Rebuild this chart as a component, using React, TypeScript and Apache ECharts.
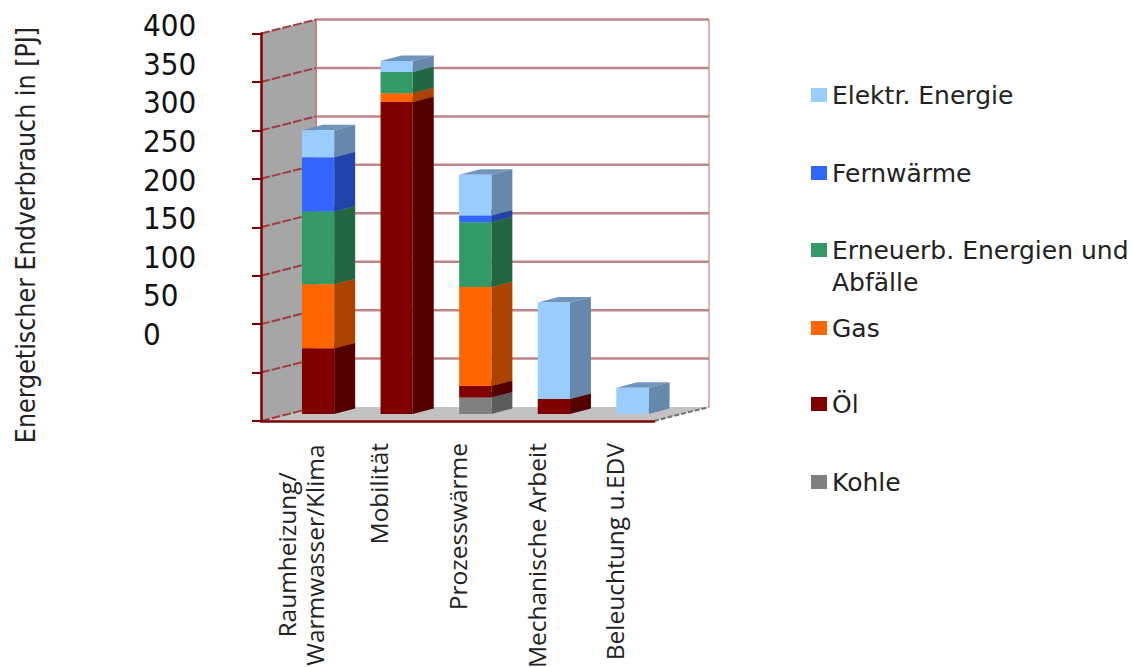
import React, { useEffect, useRef } from "react";
import * as echarts from "echarts";

// Final energy use by purpose and energy carrier, in PJ.
const categories = [
  "Raumheizung/\nWarmwasser/Klima",
  "Mobilität",
  "Prozesswärme",
  "Mechanische Arbeit",
  "Beleuchtung u.EDV",
];
const kohle = [0, 0, 17, 0, 0];
const oel = [68, 322, 12, 15.5, 0];
const gas = [66, 9, 102, 0, 0];
const erneuerbar = [75, 22, 67, 0, 0];
const fernwaerme = [56, 0, 7, 0, 0];
const elektrisch = [28, 11.5, 42, 99.5, 27];
const yTicks = [0, 50, 100, 150, 200, 250, 300, 350, 400];

const LABEL_FONT = "'DejaVu Sans', sans-serif";
const TICK_FONT = "'DejaVu Sans Condensed', 'DejaVu Sans', sans-serif";
const CATEGORY_FONT = "'Open Sans', sans-serif";
const AXIS_RED = "#800000";
const GRID_RED = "#bf8486";

// Projection of the pseudo-3D scene.
const WALL_DX = 55;
const WALL_DY = -14;
const BAR_SHIFT_X = 17.75;
const BAR_SHIFT_Y = -7;
const BAR_RATIO = 0.41;
const BAR_DX = 21;
const BAR_DY = -5.5;

const stacks = [
  { name: "Kohle", values: kohle, front: "#808080", side: "#5c5c5c", top: "#6a6a6a" },
  { name: "Öl", values: oel, front: "#800000", side: "#550000", top: "#660000" },
  { name: "Gas", values: gas, front: "#ff6600", side: "#aa4400", top: "#c05000" },
  { name: "Erneuerb. Energien und Abfälle", values: erneuerbar, front: "#339966", side: "#226644", top: "#2a7a52" },
  { name: "Fernwärme", values: fernwaerme, front: "#3366ff", side: "#2244aa", top: "#2a55cc" },
  { name: "Elektr. Energie", values: elektrisch, front: "#99ccff", side: "#6688aa", top: "#7095bd" },
];

const legendOrder = [
  { name: "Elektr. Energie", centre: 95 },
  { name: "Fernwärme", centre: 173 },
  { name: "Erneuerb. Energien und Abfälle", centre: 250, label: "Erneuerb. Energien und" },
  { name: "Gas", centre: 328 },
  { name: "Öl", centre: 404 },
  { name: "Kohle", centre: 482 },
];

function renderSegment(front: string, side: string, top: string) {
  return (_params: any, api: any) => {
    const cat = api.value(0);
    const from = api.value(1);
    const to = api.value(2);
    if (to <= from) return { type: "group", children: [] };
    const width = api.size([1, 0])[0] * BAR_RATIO;
    const low = api.coord([cat, from]);
    const high = api.coord([cat, to]);
    const x0 = low[0] + BAR_SHIFT_X - width / 2;
    const x1 = x0 + width;
    const y0 = low[1] + BAR_SHIFT_Y;
    const y1 = high[1] + BAR_SHIFT_Y;
    return {
      type: "group",
      children: [
        {
          type: "polygon",
          shape: {
            points: [[x0, y1], [x1, y1], [x1 + BAR_DX, y1 + BAR_DY], [x0 + BAR_DX, y1 + BAR_DY]],
          },
          style: { fill: top },
        },
        {
          type: "polygon",
          shape: {
            points: [[x1, y0], [x1 + BAR_DX, y0 + BAR_DY], [x1 + BAR_DX, y1 + BAR_DY], [x1, y1]],
          },
          style: { fill: side },
        },
        { type: "rect", shape: { x: x0, y: y1, width, height: y0 - y1 }, style: { fill: front } },
      ],
    };
  };
}

// Side wall, floor and the rear wall's frame.
function renderRoom(params: any, api: any) {
  const { x, y, width, height } = params.coordSys;
  const base = y + height;
  const right = x + width;
  const line = (x1: number, y1: number, x2: number, y2: number, stroke: string, lineDash?: number[]) => ({
    type: "line",
    shape: { x1, y1, x2, y2 },
    style: { stroke, lineWidth: 2, lineDash },
  });
  return {
    type: "group",
    children: [
      {
        type: "polygon",
        shape: { points: [[x, y], [x + WALL_DX, y + WALL_DY], [x + WALL_DX, base + WALL_DY], [x, base]] },
        style: { fill: "#a6a6a6" },
      },
      {
        type: "polygon",
        shape: {
          points: [[x, base], [x + WALL_DX, base + WALL_DY], [right + WALL_DX, base + WALL_DY], [right, base]],
        },
        style: { fill: "#c2c2c2" },
      },
      line(x + WALL_DX, y + WALL_DY, x + WALL_DX, base + WALL_DY, GRID_RED),
      line(right + WALL_DX, y + WALL_DY, right + WALL_DX, base + WALL_DY, "#dcb4b4"),
      line(right, base, right + WALL_DX, base + WALL_DY, "#707070", [5, 2]),
    ],
  };
}

function renderGridLine(params: any, api: any) {
  const { x, width } = params.coordSys;
  const yv = api.coord([0, api.value(0)])[1];
  const children: any[] = [
    {
      type: "line",
      shape: { x1: x, y1: yv, x2: x + WALL_DX, y2: yv + WALL_DY },
      style: { stroke: "#a23c3c", lineWidth: 2, lineDash: [9, 2] },
    },
  ];
  if (api.value(0) > 0) {
    children.push({
      type: "line",
      shape: { x1: x + WALL_DX, y1: yv + WALL_DY, x2: x + width + WALL_DX, y2: yv + WALL_DY },
      style: { stroke: GRID_RED, lineWidth: 2.5 },
    });
  }
  return { type: "group", children };
}

function buildOption() {
  const totals = categories.map(() => 0);
  const segmentSeries = stacks.map((s) => {
    const data = s.values.map((v, i) => {
      const start = totals[i];
      totals[i] += v;
      return [i, start, totals[i]];
    });
    return {
      type: "custom",
      name: s.name,
      xAxisIndex: 0,
      yAxisIndex: 0,
      z: 5,
      clip: false,
      silent: true,
      itemStyle: { color: s.front },
      encode: { x: 0, y: [1, 2] },
      renderItem: renderSegment(s.front, s.side, s.top),
      data,
    };
  });

  return {
    animation: false,
    backgroundColor: "#ffffff",
    grid: [
      { left: 261, top: 33.5, width: 393, height: 387.5, outerBoundsMode: "none" },
      { left: 198, top: 25, width: 10, height: 309, outerBoundsMode: "none" },
    ],
    xAxis: [
      {
        type: "category",
        gridIndex: 0,
        data: categories,
        z: 6,
        axisLine: { lineStyle: { color: AXIS_RED, width: 2.5 } },
        axisTick: { length: 6, lineStyle: { color: AXIS_RED, width: 2 } },
        axisLabel: {
          interval: 0,
          rotate: 90,
          margin: 22,
          color: "#222222",
          fontFamily: CATEGORY_FONT,
          fontSize: 24.5,
          lineHeight: 28,
          formatter: (value: string) =>
            value.includes("\n")
              ? value
                  .split("\n")
                  .map((line) => `{centred|${line}}`)
                  .join("\n")
              : value,
          rich: {
            centred: {
              width: 224,
              align: "center",
              fontFamily: CATEGORY_FONT,
              fontSize: 24.5,
              lineHeight: 28,
              color: "#222222",
            },
          },
        },
      },
      { type: "value", gridIndex: 1, show: false, min: 0, max: 1 },
    ],
    yAxis: [
      {
        type: "value",
        gridIndex: 0,
        min: 0,
        max: 400,
        interval: 50,
        z: 6,
        axisLine: { show: true, lineStyle: { color: AXIS_RED, width: 2.5 } },
        axisTick: { show: true, length: 9, lineStyle: { color: AXIS_RED, width: 2 } },
        axisLabel: { show: false },
        splitLine: { show: false },
      },
      {
        // Tick captions sit in their own narrower column beside the axis.
        type: "value",
        gridIndex: 1,
        min: 0,
        max: 400,
        interval: 50,
        axisLine: { show: false },
        axisTick: { show: false },
        splitLine: { show: false },
        axisLabel: {
          align: "left",
          margin: 55,
          color: "#111111",
          fontFamily: TICK_FONT,
          fontSize: 31,
          formatter: (v: number) => (yTicks.includes(v) ? String(v) : ""),
        },
      },
    ],
    legend: legendOrder.map((item) => ({
      data: [item.name],
      left: 811,
      top: item.centre - 14,
      padding: 0,
      icon: "rect",
      itemWidth: 16,
      itemHeight: 14,
      selectedMode: false,
      formatter: () => item.label ?? item.name,
      textStyle: { color: "#222222", fontFamily: LABEL_FONT, fontSize: 25, lineHeight: 28 },
    })),
    graphic: [
      {
        type: "text",
        left: 832,
        top: 270,
        style: { text: "Abfälle", fill: "#222222", font: `25px ${LABEL_FONT}` },
      },
      {
        type: "text",
        x: 25,
        y: 235,
        rotation: Math.PI / 2,
        style: {
          text: "Energetischer Endverbrauch in [PJ]",
          fill: "#222222",
          font: `26.5px ${TICK_FONT}`,
          align: "center",
          verticalAlign: "middle",
        },
      },
    ],
    series: [
      {
        type: "custom",
        name: "room",
        xAxisIndex: 0,
        yAxisIndex: 0,
        z: 1,
        clip: false,
        silent: true,
        renderItem: renderRoom,
        data: [[0]],
      },
      {
        type: "custom",
        name: "grid",
        xAxisIndex: 0,
        yAxisIndex: 0,
        z: 2,
        clip: false,
        silent: true,
        encode: { y: 0 },
        renderItem: renderGridLine,
        data: yTicks.map((v) => [v]),
      },
      ...segmentSeries,
    ],
  };
}

export default function App() {
  const ref = useRef<HTMLDivElement>(null);
  useEffect(() => {
    const chart = echarts.init(ref.current!, undefined, { renderer: "svg" });
    chart.setOption(buildOption() as any);
    return () => chart.dispose();
  }, []);
  return <div ref={ref} style={{ position: "fixed", left: 0, top: 0, width: 1132, height: 667 }} />;
}
